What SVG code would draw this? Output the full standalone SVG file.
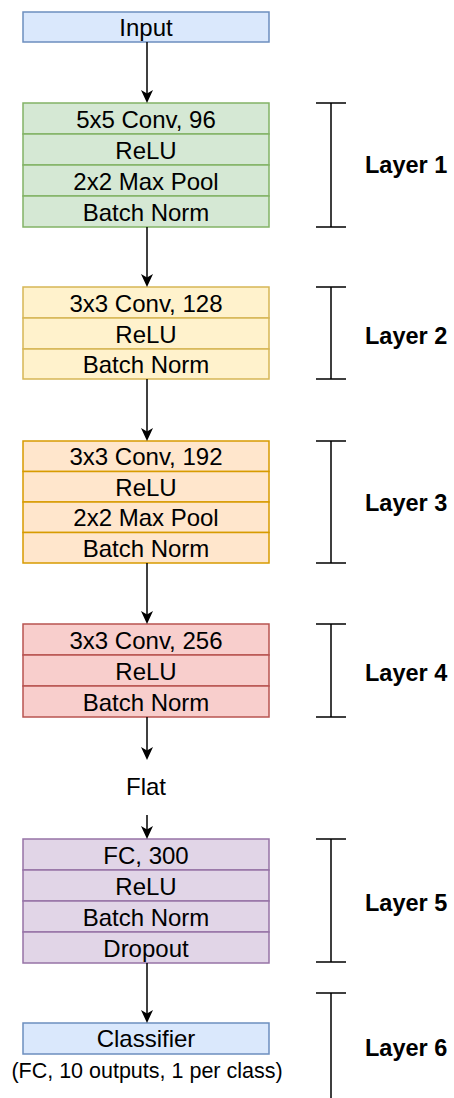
<svg xmlns="http://www.w3.org/2000/svg" width="454" height="1098" viewBox="0 0 454 1098">
<defs>
<style>
text{font-family:"Liberation Sans",Arial,sans-serif;fill:#000}
.t{font-size:24px;text-anchor:middle}
.lbl{font-size:23.5px;font-weight:bold}
.cap{font-size:21.5px;text-anchor:middle}
.blue{fill:#dae8fc;stroke:#6c8ebf;stroke-width:1.5}
.green{fill:#d5e8d4;stroke:#82b366;stroke-width:1.5}
.yellow{fill:#fff2cc;stroke:#d6b656;stroke-width:1.5}
.orange{fill:#ffe6cc;stroke:#d79b00;stroke-width:1.5}
.red{fill:#f8cecc;stroke:#b85450;stroke-width:1.5}
.purple{fill:#e1d5e7;stroke:#9673a6;stroke-width:1.5}
.edge{stroke:#000;stroke-width:1.5;fill:none;marker-end:url(#arr)}
.br{stroke:#000;stroke-width:1.5;fill:none}
</style>
<marker id="arr" markerUnits="userSpaceOnUse" markerWidth="14" markerHeight="14" refX="9" refY="6" orient="auto">
<path d="M0,0 L13,6 L0,12 L3.5,6 Z" fill="#000"/>
</marker>
</defs>

<g id="input">
<rect class="blue" x="23" y="12" width="246" height="30"/>
<text class="t" x="146" y="35.5">Input</text>
</g>

<g id="layer1">
<rect class="green" x="23" y="103" width="246" height="31"/>
<rect class="green" x="23" y="134" width="246" height="31"/>
<rect class="green" x="23" y="165" width="246" height="31"/>
<rect class="green" x="23" y="196" width="246" height="31"/>
<text class="t" x="146" y="127.5">5x5 Conv, 96</text>
<text class="t" x="146" y="158.5">ReLU</text>
<text class="t" x="146" y="189.5">2x2 Max Pool</text>
<text class="t" x="146" y="220.5">Batch Norm</text>
<path class="br" d="M316,103 H346 M331,103 V227 M316,227 H346"/>
<text class="lbl" x="365" y="173">Layer 1</text>
</g>

<g id="layer2">
<rect class="yellow" x="23" y="287" width="246" height="31"/>
<rect class="yellow" x="23" y="318" width="246" height="31"/>
<rect class="yellow" x="23" y="349" width="246" height="30"/>
<text class="t" x="146" y="311.5">3x3 Conv, 128</text>
<text class="t" x="146" y="342.5">ReLU</text>
<text class="t" x="146" y="373">Batch Norm</text>
<path class="br" d="M316,287 H346 M331,287 V379 M316,379 H346"/>
<text class="lbl" x="365" y="344">Layer 2</text>
</g>

<g id="layer3">
<rect class="orange" x="23" y="441" width="246" height="30.5"/>
<rect class="orange" x="23" y="471.5" width="246" height="30.5"/>
<rect class="orange" x="23" y="502" width="246" height="30.5"/>
<rect class="orange" x="23" y="532.5" width="246" height="30.5"/>
<text class="t" x="146" y="465">3x3 Conv, 192</text>
<text class="t" x="146" y="495.5">ReLU</text>
<text class="t" x="146" y="526">2x2 Max Pool</text>
<text class="t" x="146" y="556.5">Batch Norm</text>
<path class="br" d="M316,441 H346 M331,441 V563 M316,563 H346"/>
<text class="lbl" x="365" y="511">Layer 3</text>
</g>

<g id="layer4">
<rect class="red" x="23" y="624" width="246" height="31"/>
<rect class="red" x="23" y="655" width="246" height="31"/>
<rect class="red" x="23" y="686" width="246" height="31"/>
<text class="t" x="146" y="648.5">3x3 Conv, 256</text>
<text class="t" x="146" y="679.5">ReLU</text>
<text class="t" x="146" y="710.5">Batch Norm</text>
<path class="br" d="M316,624 H346 M331,624 V717 M316,717 H346"/>
<text class="lbl" x="365" y="681">Layer 4</text>
</g>

<g id="flat">
<text class="t" x="146" y="795">Flat</text>
</g>

<g id="layer5">
<rect class="purple" x="23" y="839" width="246" height="31"/>
<rect class="purple" x="23" y="870" width="246" height="31"/>
<rect class="purple" x="23" y="901" width="246" height="31"/>
<rect class="purple" x="23" y="932" width="246" height="31"/>
<text class="t" x="146" y="863.5">FC, 300</text>
<text class="t" x="146" y="894.5">ReLU</text>
<text class="t" x="146" y="925.5">Batch Norm</text>
<text class="t" x="146" y="956.5">Dropout</text>
<path class="br" d="M316,839 H346 M331,839 V962 M316,962 H346"/>
<text class="lbl" x="365" y="911">Layer 5</text>
</g>

<g id="layer6">
<rect class="blue" x="23" y="1023" width="246" height="31"/>
<text class="t" x="146" y="1047">Classifier</text>
<text class="cap" x="147" y="1078">(FC, 10 outputs, 1 per class)</text>
<path class="br" d="M316,993 H346 M331,993 V1098"/>
<text class="lbl" x="365" y="1056">Layer 6</text>
</g>

<g id="connectors">
<line class="edge" x1="147" y1="42" x2="147" y2="99"/>
<line class="edge" x1="147" y1="227" x2="147" y2="283"/>
<line class="edge" x1="147" y1="379" x2="147" y2="437"/>
<line class="edge" x1="147" y1="563" x2="147" y2="620"/>
<line class="edge" x1="147" y1="717" x2="147" y2="756"/>
<line class="edge" x1="147" y1="815" x2="147" y2="835"/>
<line class="edge" x1="147" y1="963" x2="147" y2="1019"/>
</g>
</svg>
